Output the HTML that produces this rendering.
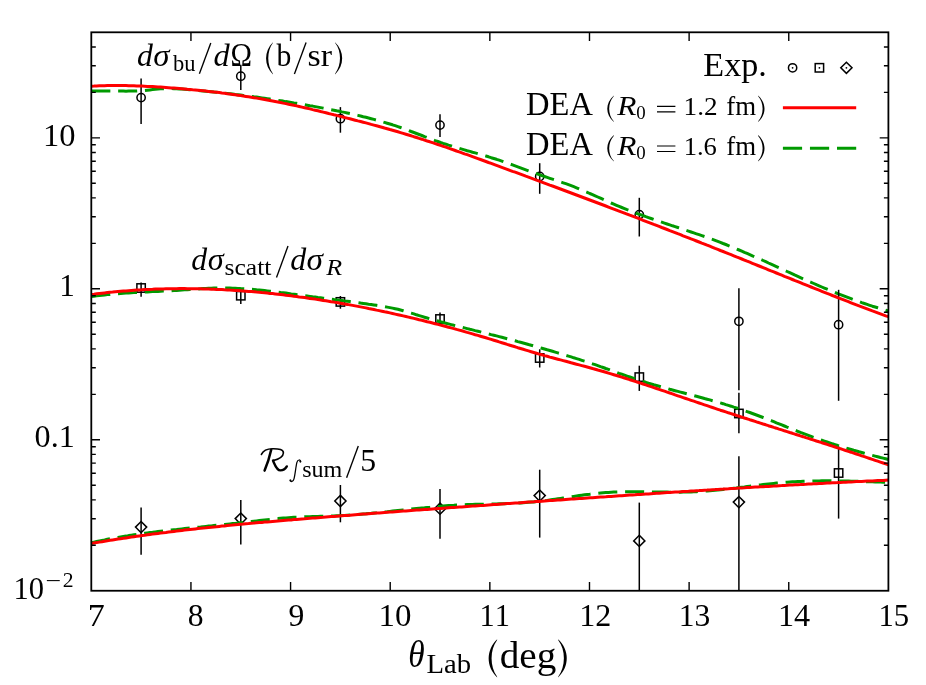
<!DOCTYPE html>
<html><head><meta charset="utf-8"><title>chart</title>
<style>html,body{margin:0;padding:0;background:#fff;overflow:hidden;}svg{display:block;will-change:transform;}text{font-family:"Liberation Serif",serif;fill:#000;}</style></head><body>
<svg width="926" height="685" viewBox="0 0 926 685">
<rect x="0" y="0" width="926" height="685" fill="#ffffff"/>
<g style="font-kerning:none">
<text transform="translate(43.04,145.8) scale(1.0415,1)" style="font-size:31.2px;">10</text>
<text transform="translate(59.25,296.2) scale(1.0015,1)" style="font-size:31.2px;">1</text>
<text transform="translate(34.58,447.3) scale(1.0296,1)" style="font-size:31.2px;">0.1</text>
<text transform="translate(13.52,598.6) scale(0.9791,1)" style="font-size:31.2px;">10</text>
<text transform="translate(45.52,588.3) scale(1.2601,1)" style="font-size:22px;">−</text>
<text transform="translate(62.85,586.8) scale(1.0047,1)" style="font-size:21.6px;">2</text>
<text transform="translate(87.76,625.5) scale(1.0914,1)" style="font-size:31.2px;">7</text>
<text transform="translate(187.80,625.5) scale(1.0134,1)" style="font-size:31.2px;">8</text>
<text transform="translate(288.38,625.5) scale(1.0139,1)" style="font-size:31.2px;">9</text>
<text transform="translate(378.60,625.5) scale(1.0561,1)" style="font-size:31.2px;">10</text>
<text transform="translate(479.43,625.5) scale(0.9743,1)" style="font-size:31.2px;">11</text>
<text transform="translate(579.18,625.5) scale(1.0286,1)" style="font-size:31.2px;">12</text>
<text transform="translate(678.63,625.5) scale(1.0096,1)" style="font-size:31.2px;">13</text>
<text transform="translate(777.97,625.5) scale(1.0332,1)" style="font-size:31.2px;">14</text>
<text transform="translate(878.50,625.5) scale(0.9839,1)" style="font-size:31.2px;">15</text>
<text transform="translate(408.37,667.2) scale(0.8680,1)" style="font-size:38.5px;font-style:italic;">θ</text>
<text transform="translate(426.47,672.8) scale(1.0475,1)" style="font-size:27.4px;">Lab</text>
<path fill="#000" stroke="none" d="M497.20,639.30 C485.87,649.97 485.87,666.73 497.20,677.40 L497.00,676.40 C489.80,666.73 489.80,649.97 497.00,640.30Z"/>
<text transform="translate(499.68,667.6) scale(1.0175,1)" style="font-size:38.5px;">deg</text>
<path fill="#000" stroke="none" d="M558.10,639.30 C569.70,649.97 569.70,666.73 558.10,677.40 L558.30,676.40 C565.77,666.73 565.77,649.97 558.30,640.30Z"/>
<text transform="translate(137.04,66.2) scale(0.9928,1)" style="font-size:32px;font-style:italic;">d</text>
<text transform="translate(153.22,66.2) scale(1.0288,1)" style="font-size:32px;font-style:italic;">σ</text>
<text transform="translate(173.00,71.2) scale(1.0038,1)" style="font-size:22.4px;">bu</text>
<line x1="199.40" y1="73.70" x2="210.80" y2="43.10" stroke="#000" stroke-width="1.35" stroke-linecap="butt"/>
<text transform="translate(213.52,66.2) scale(1.0126,1)" style="font-size:32px;font-style:italic;">d</text>
<text transform="translate(230.50,66.2) scale(0.8764,1)" style="font-size:33px;">Ω</text>
<path fill="#000" stroke="none" d="M273.00,42.20 C263.80,51.22 263.80,65.38 273.00,74.40 L272.82,73.50 C266.79,65.38 266.79,51.22 272.82,43.10Z"/>
<text transform="translate(276.60,66.2) scale(0.9268,1)" style="font-size:32px;">b</text>
<line x1="294.40" y1="74.10" x2="306.10" y2="42.50" stroke="#000" stroke-width="1.35" stroke-linecap="butt"/>
<text transform="translate(307.61,66.2) scale(1.0597,1)" style="font-size:32px;">sr</text>
<path fill="#000" stroke="none" d="M335.00,42.20 C344.60,51.22 344.60,65.38 335.00,74.40 L335.18,73.50 C341.61,65.38 341.61,51.22 335.18,43.10Z"/>
<text transform="translate(191.34,269.6) scale(0.9928,1)" style="font-size:32px;font-style:italic;">d</text>
<text transform="translate(207.64,269.6) scale(1.0099,1)" style="font-size:32px;font-style:italic;">σ</text>
<text transform="translate(224.55,274.6) scale(1.1425,1)" style="font-size:22.4px;">scatt</text>
<line x1="276.50" y1="277.40" x2="288.00" y2="246.10" stroke="#000" stroke-width="1.35" stroke-linecap="butt"/>
<text transform="translate(290.33,269.6) scale(0.9994,1)" style="font-size:32px;font-style:italic;">d</text>
<text transform="translate(306.61,269.6) scale(1.0414,1)" style="font-size:32px;font-style:italic;">σ</text>
<text transform="translate(326.34,274.8) scale(1.1615,1)" style="font-size:22.4px;font-style:italic;">R</text>
<g fill="none" stroke="#000" stroke-linecap="round" stroke-linejoin="round"><path stroke-width="2.5" d="M271.2,449.8 C269.6,457.0 267.2,464.4 264.6,470.6"/><path stroke-width="1.6" d="M261.4,454.4 C263.2,450.4 267.2,448.7 272.6,448.7 C279.0,448.6 283.6,449.6 283.4,453.0 C283.2,456.6 278.2,459.4 273.0,460.6"/><path stroke-width="2.4" d="M273.0,460.6 C274.8,464.6 276.6,470.4 280.4,470.4 C283.4,470.4 285.8,468.2 286.8,466.4"/></g>
<path fill="none" stroke="#000" stroke-width="1.25" stroke-linecap="round" d="M300.6,461.8 C300.6,459.4 297.8,459.2 296.9,462.4 C295.8,466.6 295.2,474.6 294.0,478.8 C293.2,481.8 290.6,482.4 290.2,480.2"/>
<circle cx="300.3" cy="461.6" r="1.0"/><circle cx="290.5" cy="480.4" r="1.0"/>
<text transform="translate(302.21,476.5) scale(1.0756,1)" style="font-size:22.4px;">sum</text>
<line x1="346.60" y1="477.70" x2="358.30" y2="446.00" stroke="#000" stroke-width="1.35" stroke-linecap="butt"/>
<text transform="translate(360.35,470.8) scale(1.0184,1)" style="font-size:31.2px;">5</text>
<text transform="translate(703.32,75.5) scale(1.0346,1)" style="font-size:33px;">Exp.</text>
<text transform="translate(526.06,115.1) scale(0.9861,1)" style="font-size:33px;">DEA</text>
<text transform="translate(526.06,154.7) scale(0.9861,1)" style="font-size:33px;">DEA</text>
<path fill="#000" stroke="none" d="M613.90,95.50 C605.10,102.92 605.10,114.58 613.90,122.00 L613.74,121.20 C607.69,114.58 607.69,102.92 613.74,96.30Z"/>
<text transform="translate(617.37,115.1) scale(1.1743,1)" style="font-size:26.7px;font-style:italic;">R</text>
<text transform="translate(636.18,119.39999999999999) scale(1.0371,1)" style="font-size:18.2px;">0</text>
<path d="M657.0,106.35 H675.4 M657.0,111.85 H675.4" stroke="#000" stroke-width="1.15" fill="none"/>
<text transform="translate(683.61,115.3) scale(1.0706,1)" style="font-size:25.4px;">1.2</text>
<text transform="translate(726.37,115.1) scale(1.0063,1)" style="font-size:26.7px;">fm</text>
<path fill="#000" stroke="none" d="M758.00,95.50 C766.67,102.92 766.67,114.58 758.00,122.00 L758.16,121.20 C764.08,114.58 764.08,102.92 758.16,96.30Z"/>
<path fill="#000" stroke="none" d="M613.90,135.10 C605.10,142.52 605.10,154.18 613.90,161.60 L613.74,160.80 C607.69,154.18 607.69,142.52 613.74,135.90Z"/>
<text transform="translate(617.37,154.7) scale(1.1743,1)" style="font-size:26.7px;font-style:italic;">R</text>
<text transform="translate(636.18,159.0) scale(1.0371,1)" style="font-size:18.2px;">0</text>
<path d="M657.0,145.95 H675.4 M657.0,151.45 H675.4" stroke="#000" stroke-width="1.15" fill="none"/>
<text transform="translate(683.66,154.89999999999998) scale(1.0466,1)" style="font-size:25.4px;">1.6</text>
<text transform="translate(726.37,154.7) scale(1.0063,1)" style="font-size:26.7px;">fm</text>
<path fill="#000" stroke="none" d="M758.00,135.10 C766.67,142.52 766.67,154.18 758.00,161.60 L758.16,160.80 C764.08,154.18 764.08,142.52 758.16,135.90Z"/>
</g>
<g fill="none" stroke="#000000" stroke-width="1.5">
<line x1="141.1" y1="78.6" x2="141.1" y2="123.9"/>
<line x1="240.8" y1="64.8" x2="240.8" y2="90.0"/>
<line x1="340.4" y1="107.1" x2="340.4" y2="132.7"/>
<line x1="440.0" y1="114.3" x2="440.0" y2="137.1"/>
<line x1="539.7" y1="163.2" x2="539.7" y2="193.8"/>
<line x1="639.3" y1="197.8" x2="639.3" y2="236.5"/>
<line x1="141.1" y1="282.6" x2="141.1" y2="296.8"/>
<line x1="240.8" y1="289.0" x2="240.8" y2="304.0"/>
<line x1="340.4" y1="296.0" x2="340.4" y2="308.7"/>
<line x1="440.0" y1="312.4" x2="440.0" y2="325.6"/>
<line x1="539.7" y1="349.3" x2="539.7" y2="367.5"/>
<line x1="639.3" y1="365.7" x2="639.3" y2="390.9"/>
<line x1="738.9" y1="392.7" x2="738.9" y2="433.2"/>
<line x1="838.6" y1="446.4" x2="838.6" y2="518.6"/>
<line x1="141.1" y1="507.6" x2="141.1" y2="554.7"/>
<line x1="240.8" y1="500.0" x2="240.8" y2="544.6"/>
<line x1="340.4" y1="485.0" x2="340.4" y2="522.3"/>
<line x1="440.0" y1="489.0" x2="440.0" y2="538.7"/>
<line x1="539.7" y1="469.7" x2="539.7" y2="537.6"/>
<line x1="639.3" y1="502.6" x2="639.3" y2="590.5"/>
<line x1="738.9" y1="456.2" x2="738.9" y2="590.5"/>
</g>
<g fill="none" stroke="#000000" stroke-width="1.5" stroke-linejoin="miter">
<circle cx="141.1" cy="97.6" r="4.15"/>
<circle cx="240.8" cy="76.2" r="4.15"/>
<circle cx="340.4" cy="118.7" r="4.15"/>
<circle cx="440.0" cy="125.1" r="4.15"/>
<circle cx="539.7" cy="176.5" r="4.15"/>
<circle cx="639.3" cy="214.6" r="4.15"/>
<rect x="136.9" y="283.8" width="8.4" height="8.4"/>
<rect x="236.6" y="291.5" width="8.4" height="8.4"/>
<rect x="336.2" y="297.7" width="8.4" height="8.4"/>
<rect x="435.8" y="314.8" width="8.4" height="8.4"/>
<rect x="535.5" y="353.8" width="8.4" height="8.4"/>
<rect x="635.1" y="372.9" width="8.4" height="8.4"/>
<rect x="734.7" y="409.3" width="8.4" height="8.4"/>
<rect x="834.4" y="468.8" width="8.4" height="8.4"/>
<path d="M141.1,521.5 L146.7,527.1 L141.1,532.7 L135.5,527.1Z"/>
<path d="M240.8,513.0 L246.4,518.6 L240.8,524.2 L235.2,518.6Z"/>
<path d="M340.4,495.4 L346.0,501.0 L340.4,506.6 L334.8,501.0Z"/>
<path d="M440.0,503.1 L445.6,508.7 L440.0,514.3 L434.4,508.7Z"/>
<path d="M539.7,490.0 L545.3,495.6 L539.7,501.2 L534.1,495.6Z"/>
<path d="M639.3,535.3 L644.9,540.9 L639.3,546.5 L633.7,540.9Z"/>
<path d="M738.9,496.5 L744.5,502.1 L738.9,507.7 L733.3,502.1Z"/>
</g>
<g fill="none" stroke="#009a00" stroke-width="3" stroke-dasharray="19.05 7.79" stroke-linecap="butt" stroke-linejoin="round">
<path d="M91.3,91.0 L94.0,90.9 L96.6,90.9 L99.3,90.9 L102.0,90.9 L104.6,90.9 L107.3,90.9 L110.0,91.0 L112.6,91.0 L115.3,91.0 L118.0,91.1 L120.6,91.1 L123.3,91.1 L126.0,91.2 L128.6,91.1 L131.3,91.1 L134.0,91.0 L136.6,91.0 L139.3,90.8 L142.0,90.7 L144.6,90.5 L147.3,90.2 L149.9,89.9 L152.6,89.6 L155.3,89.3 L157.9,89.1 L160.6,88.8 L163.3,88.7 L165.9,88.6 L168.6,88.6 L171.3,88.6 L173.9,88.7 L176.6,88.8 L179.3,88.9 L181.9,89.1 L184.6,89.3 L187.3,89.5 L189.9,89.7 L192.6,90.0 L195.3,90.2 L197.9,90.4 L200.6,90.7 L203.3,90.9 L205.9,91.2 L208.6,91.4 L211.3,91.7 L213.9,92.0 L216.6,92.2 L219.3,92.5 L221.9,92.8 L224.6,93.1 L227.3,93.4 L229.9,93.7 L232.6,94.0 L235.3,94.4 L237.9,94.7 L240.6,95.0 L243.3,95.4 L245.9,95.7 L248.6,96.1 L251.3,96.4 L253.9,96.8 L256.6,97.1 L259.3,97.5 L261.9,97.9 L264.6,98.3 L267.2,98.7 L269.9,99.1 L272.6,99.5 L275.2,99.9 L277.9,100.3 L280.6,100.7 L283.2,101.1 L285.9,101.6 L288.6,102.0 L291.2,102.4 L293.9,102.9 L296.6,103.3 L299.2,103.8 L301.9,104.2 L304.6,104.7 L307.2,105.2 L309.9,105.7 L312.6,106.1 L315.2,106.6 L317.9,107.1 L320.6,107.6 L323.2,108.1 L325.9,108.7 L328.6,109.2 L331.2,109.7 L333.9,110.2 L336.6,110.8 L339.2,111.3 L341.9,111.9 L344.6,112.4 L347.2,113.0 L349.9,113.6 L352.6,114.2 L355.2,114.8 L357.9,115.4 L360.6,116.0 L363.2,116.7 L365.9,117.3 L368.6,118.0 L371.2,118.7 L373.9,119.4 L376.5,120.1 L379.2,120.8 L381.9,121.6 L384.5,122.4 L387.2,123.2 L389.9,124.0 L392.5,124.8 L395.2,125.7 L397.9,126.6 L400.5,127.5 L403.2,128.5 L405.9,129.5 L408.5,130.4 L411.2,131.5 L413.9,132.5 L416.5,133.5 L419.2,134.5 L421.9,135.5 L424.5,136.6 L427.2,137.6 L429.9,138.6 L432.5,139.6 L435.2,140.6 L437.9,141.5 L440.5,142.5 L443.2,143.4 L445.9,144.2 L448.5,145.1 L451.2,145.9 L453.9,146.8 L456.5,147.6 L459.2,148.3 L461.9,149.1 L464.5,149.9 L467.2,150.7 L469.9,151.4 L472.5,152.2 L475.2,152.9 L477.9,153.7 L480.5,154.5 L483.2,155.3 L485.9,156.0 L488.5,156.8 L491.2,157.7 L493.8,158.5 L496.5,159.3 L499.2,160.2 L501.8,161.1 L504.5,162.0 L507.2,163.0 L509.8,163.9 L512.5,164.9 L515.2,165.9 L517.8,166.8 L520.5,167.8 L523.2,168.8 L525.8,169.8 L528.5,170.8 L531.2,171.8 L533.8,172.8 L536.5,173.7 L539.2,174.7 L541.8,175.6 L544.5,176.5 L547.2,177.4 L549.8,178.3 L552.5,179.2 L555.2,180.1 L557.8,181.0 L560.5,181.9 L563.2,182.8 L565.8,183.7 L568.5,184.7 L571.2,185.7 L573.8,186.7 L576.5,187.8 L579.2,188.9 L581.8,190.0 L584.5,191.2 L587.2,192.3 L589.8,193.5 L592.5,194.6 L595.2,195.8 L597.8,197.0 L600.5,198.2 L603.2,199.4 L605.8,200.6 L608.5,201.8 L611.1,203.0 L613.8,204.1 L616.5,205.3 L619.1,206.4 L621.8,207.5 L624.5,208.6 L627.1,209.7 L629.8,210.7 L632.5,211.7 L635.1,212.8 L637.8,213.8 L640.5,214.7 L643.1,215.7 L645.8,216.7 L648.5,217.6 L651.1,218.5 L653.8,219.5 L656.5,220.4 L659.1,221.3 L661.8,222.2 L664.5,223.1 L667.1,224.0 L669.8,224.9 L672.5,225.8 L675.1,226.6 L677.8,227.5 L680.5,228.4 L683.1,229.3 L685.8,230.2 L688.5,231.1 L691.1,232.0 L693.8,232.9 L696.5,233.8 L699.1,234.7 L701.8,235.6 L704.5,236.5 L707.1,237.5 L709.8,238.5 L712.5,239.4 L715.1,240.4 L717.8,241.4 L720.4,242.4 L723.1,243.5 L725.8,244.5 L728.4,245.6 L731.1,246.7 L733.8,247.8 L736.4,248.9 L739.1,250.0 L741.8,251.1 L744.4,252.3 L747.1,253.4 L749.8,254.6 L752.4,255.8 L755.1,256.9 L757.8,258.1 L760.4,259.3 L763.1,260.5 L765.8,261.7 L768.4,263.0 L771.1,264.2 L773.8,265.4 L776.4,266.6 L779.1,267.8 L781.8,269.1 L784.4,270.3 L787.1,271.5 L789.8,272.7 L792.4,273.9 L795.1,275.2 L797.8,276.4 L800.4,277.6 L803.1,278.8 L805.8,280.0 L808.4,281.2 L811.1,282.3 L813.8,283.5 L816.4,284.7 L819.1,285.8 L821.8,287.0 L824.4,288.1 L827.1,289.2 L829.8,290.3 L832.4,291.4 L835.1,292.5 L837.7,293.6 L840.4,294.6 L843.1,295.7 L845.7,296.7 L848.4,297.7 L851.1,298.7 L853.7,299.7 L856.4,300.7 L859.1,301.6 L861.7,302.6 L864.4,303.5 L867.1,304.4 L869.7,305.3 L872.4,306.2 L875.1,307.0 L877.7,307.8 L880.4,308.7 L883.1,309.5 L885.7,310.2 L888.4,311.0"/>
<path d="M91.3,296.5 L94.0,296.2 L96.6,295.8 L99.3,295.5 L102.0,295.2 L104.6,294.9 L107.3,294.6 L110.0,294.4 L112.6,294.1 L115.3,293.9 L118.0,293.7 L120.6,293.5 L123.3,293.3 L126.0,293.1 L128.6,292.9 L131.3,292.7 L134.0,292.6 L136.6,292.4 L139.3,292.3 L142.0,292.1 L144.6,292.0 L147.3,291.9 L149.9,291.7 L152.6,291.6 L155.3,291.5 L157.9,291.4 L160.6,291.2 L163.3,291.1 L165.9,291.0 L168.6,290.8 L171.3,290.7 L173.9,290.5 L176.6,290.4 L179.3,290.2 L181.9,290.0 L184.6,289.8 L187.3,289.7 L189.9,289.5 L192.6,289.3 L195.3,289.1 L197.9,288.9 L200.6,288.8 L203.3,288.6 L205.9,288.5 L208.6,288.3 L211.3,288.2 L213.9,288.1 L216.6,288.1 L219.3,288.0 L221.9,288.0 L224.6,288.0 L227.3,288.1 L229.9,288.1 L232.6,288.2 L235.3,288.3 L237.9,288.4 L240.6,288.6 L243.3,288.7 L245.9,288.9 L248.6,289.1 L251.3,289.3 L253.9,289.5 L256.6,289.8 L259.3,290.0 L261.9,290.3 L264.6,290.6 L267.2,290.9 L269.9,291.2 L272.6,291.5 L275.2,291.8 L277.9,292.1 L280.6,292.5 L283.2,292.8 L285.9,293.1 L288.6,293.5 L291.2,293.9 L293.9,294.2 L296.6,294.6 L299.2,294.9 L301.9,295.3 L304.6,295.7 L307.2,296.0 L309.9,296.4 L312.6,296.8 L315.2,297.1 L317.9,297.5 L320.6,297.8 L323.2,298.2 L325.9,298.5 L328.6,298.9 L331.2,299.2 L333.9,299.6 L336.6,299.9 L339.2,300.3 L341.9,300.6 L344.6,301.0 L347.2,301.3 L349.9,301.6 L352.6,302.0 L355.2,302.3 L357.9,302.7 L360.6,303.1 L363.2,303.4 L365.9,303.8 L368.6,304.2 L371.2,304.5 L373.9,304.9 L376.5,305.3 L379.2,305.7 L381.9,306.1 L384.5,306.6 L387.2,307.1 L389.9,307.6 L392.5,308.1 L395.2,308.7 L397.9,309.3 L400.5,310.0 L403.2,310.7 L405.9,311.5 L408.5,312.3 L411.2,313.1 L413.9,313.9 L416.5,314.8 L419.2,315.6 L421.9,316.4 L424.5,317.2 L427.2,318.0 L429.9,318.8 L432.5,319.6 L435.2,320.3 L437.9,321.0 L440.5,321.8 L443.2,322.5 L445.9,323.2 L448.5,323.9 L451.2,324.6 L453.9,325.3 L456.5,325.9 L459.2,326.6 L461.9,327.3 L464.5,327.9 L467.2,328.6 L469.9,329.3 L472.5,329.9 L475.2,330.6 L477.9,331.2 L480.5,331.9 L483.2,332.6 L485.9,333.2 L488.5,333.9 L491.2,334.6 L493.8,335.2 L496.5,335.9 L499.2,336.6 L501.8,337.3 L504.5,338.0 L507.2,338.7 L509.8,339.4 L512.5,340.1 L515.2,340.8 L517.8,341.6 L520.5,342.3 L523.2,343.0 L525.8,343.7 L528.5,344.5 L531.2,345.2 L533.8,346.0 L536.5,346.7 L539.2,347.5 L541.8,348.2 L544.5,349.0 L547.2,349.8 L549.8,350.5 L552.5,351.3 L555.2,352.1 L557.8,352.9 L560.5,353.7 L563.2,354.5 L565.8,355.3 L568.5,356.1 L571.2,356.9 L573.8,357.8 L576.5,358.6 L579.2,359.4 L581.8,360.3 L584.5,361.2 L587.2,362.0 L589.8,362.9 L592.5,363.8 L595.2,364.7 L597.8,365.6 L600.5,366.6 L603.2,367.5 L605.8,368.5 L608.5,369.4 L611.1,370.4 L613.8,371.3 L616.5,372.3 L619.1,373.3 L621.8,374.2 L624.5,375.2 L627.1,376.1 L629.8,377.0 L632.5,378.0 L635.1,378.9 L637.8,379.8 L640.5,380.6 L643.1,381.5 L645.8,382.3 L648.5,383.2 L651.1,384.0 L653.8,384.8 L656.5,385.5 L659.1,386.3 L661.8,387.1 L664.5,387.8 L667.1,388.5 L669.8,389.3 L672.5,390.0 L675.1,390.7 L677.8,391.4 L680.5,392.1 L683.1,392.8 L685.8,393.5 L688.5,394.2 L691.1,394.9 L693.8,395.6 L696.5,396.3 L699.1,397.0 L701.8,397.7 L704.5,398.5 L707.1,399.2 L709.8,399.9 L712.5,400.7 L715.1,401.4 L717.8,402.2 L720.4,402.9 L723.1,403.7 L725.8,404.6 L728.4,405.4 L731.1,406.2 L733.8,407.1 L736.4,407.9 L739.1,408.8 L741.8,409.7 L744.4,410.7 L747.1,411.6 L749.8,412.5 L752.4,413.5 L755.1,414.5 L757.8,415.5 L760.4,416.5 L763.1,417.5 L765.8,418.5 L768.4,419.6 L771.1,420.6 L773.8,421.7 L776.4,422.8 L779.1,423.8 L781.8,424.9 L784.4,426.0 L787.1,427.1 L789.8,428.1 L792.4,429.2 L795.1,430.3 L797.8,431.3 L800.4,432.4 L803.1,433.4 L805.8,434.4 L808.4,435.4 L811.1,436.4 L813.8,437.4 L816.4,438.4 L819.1,439.3 L821.8,440.2 L824.4,441.1 L827.1,442.0 L829.8,442.9 L832.4,443.8 L835.1,444.6 L837.7,445.5 L840.4,446.3 L843.1,447.1 L845.7,447.9 L848.4,448.7 L851.1,449.5 L853.7,450.3 L856.4,451.0 L859.1,451.8 L861.7,452.5 L864.4,453.3 L867.1,454.0 L869.7,454.7 L872.4,455.4 L875.1,456.1 L877.7,456.8 L880.4,457.5 L883.1,458.1 L885.7,458.8 L888.4,459.5"/>
<path d="M91.3,542.7 L94.0,542.1 L96.6,541.5 L99.3,540.9 L102.0,540.4 L104.6,539.9 L107.3,539.3 L110.0,538.8 L112.6,538.3 L115.3,537.9 L118.0,537.4 L120.6,536.9 L123.3,536.5 L126.0,536.1 L128.6,535.6 L131.3,535.2 L134.0,534.8 L136.6,534.4 L139.3,534.0 L142.0,533.7 L144.6,533.3 L147.3,532.9 L149.9,532.6 L152.6,532.3 L155.3,531.9 L157.9,531.6 L160.6,531.3 L163.3,531.0 L165.9,530.6 L168.6,530.3 L171.3,530.0 L173.9,529.7 L176.6,529.5 L179.3,529.2 L181.9,528.9 L184.6,528.6 L187.3,528.3 L189.9,528.0 L192.6,527.8 L195.3,527.5 L197.9,527.2 L200.6,527.0 L203.3,526.7 L205.9,526.4 L208.6,526.1 L211.3,525.9 L213.9,525.6 L216.6,525.3 L219.3,525.1 L221.9,524.8 L224.6,524.5 L227.3,524.2 L229.9,523.9 L232.6,523.6 L235.3,523.4 L237.9,523.1 L240.6,522.8 L243.3,522.5 L245.9,522.1 L248.6,521.8 L251.3,521.5 L253.9,521.2 L256.6,520.9 L259.3,520.6 L261.9,520.3 L264.6,520.0 L267.2,519.7 L269.9,519.4 L272.6,519.1 L275.2,518.8 L277.9,518.6 L280.6,518.3 L283.2,518.1 L285.9,517.9 L288.6,517.7 L291.2,517.5 L293.9,517.3 L296.6,517.2 L299.2,517.1 L301.9,516.9 L304.6,516.8 L307.2,516.7 L309.9,516.7 L312.6,516.6 L315.2,516.5 L317.9,516.4 L320.6,516.3 L323.2,516.3 L325.9,516.2 L328.6,516.1 L331.2,516.0 L333.9,515.9 L336.6,515.8 L339.2,515.7 L341.9,515.5 L344.6,515.4 L347.2,515.2 L349.9,515.0 L352.6,514.9 L355.2,514.7 L357.9,514.5 L360.6,514.2 L363.2,514.0 L365.9,513.8 L368.6,513.5 L371.2,513.3 L373.9,513.0 L376.5,512.8 L379.2,512.5 L381.9,512.2 L384.5,511.9 L387.2,511.7 L389.9,511.4 L392.5,511.1 L395.2,510.8 L397.9,510.5 L400.5,510.2 L403.2,509.9 L405.9,509.6 L408.5,509.3 L411.2,509.1 L413.9,508.8 L416.5,508.5 L419.2,508.2 L421.9,507.9 L424.5,507.7 L427.2,507.4 L429.9,507.2 L432.5,506.9 L435.2,506.7 L437.9,506.4 L440.5,506.2 L443.2,506.0 L445.9,505.8 L448.5,505.6 L451.2,505.4 L453.9,505.3 L456.5,505.1 L459.2,505.0 L461.9,504.8 L464.5,504.7 L467.2,504.6 L469.9,504.5 L472.5,504.4 L475.2,504.3 L477.9,504.3 L480.5,504.2 L483.2,504.2 L485.9,504.1 L488.5,504.1 L491.2,504.0 L493.8,503.9 L496.5,503.9 L499.2,503.8 L501.8,503.7 L504.5,503.7 L507.2,503.6 L509.8,503.5 L512.5,503.3 L515.2,503.2 L517.8,503.1 L520.5,502.9 L523.2,502.7 L525.8,502.6 L528.5,502.3 L531.2,502.1 L533.8,501.9 L536.5,501.6 L539.2,501.3 L541.8,501.0 L544.5,500.7 L547.2,500.4 L549.8,500.0 L552.5,499.6 L555.2,499.2 L557.8,498.8 L560.5,498.4 L563.2,498.0 L565.8,497.6 L568.5,497.2 L571.2,496.8 L573.8,496.4 L576.5,496.0 L579.2,495.6 L581.8,495.2 L584.5,494.8 L587.2,494.5 L589.8,494.2 L592.5,493.8 L595.2,493.6 L597.8,493.3 L600.5,493.0 L603.2,492.8 L605.8,492.6 L608.5,492.4 L611.1,492.2 L613.8,492.1 L616.5,492.0 L619.1,491.9 L621.8,491.8 L624.5,491.7 L627.1,491.7 L629.8,491.7 L632.5,491.7 L635.1,491.7 L637.8,491.7 L640.5,491.7 L643.1,491.7 L645.8,491.8 L648.5,491.8 L651.1,491.9 L653.8,491.9 L656.5,492.0 L659.1,492.0 L661.8,492.1 L664.5,492.1 L667.1,492.1 L669.8,492.2 L672.5,492.2 L675.1,492.2 L677.8,492.2 L680.5,492.2 L683.1,492.1 L685.8,492.1 L688.5,492.0 L691.1,491.9 L693.8,491.8 L696.5,491.7 L699.1,491.5 L701.8,491.3 L704.5,491.2 L707.1,490.9 L709.8,490.7 L712.5,490.5 L715.1,490.2 L717.8,490.0 L720.4,489.7 L723.1,489.4 L725.8,489.1 L728.4,488.8 L731.1,488.5 L733.8,488.2 L736.4,487.9 L739.1,487.5 L741.8,487.2 L744.4,486.9 L747.1,486.5 L749.8,486.2 L752.4,485.9 L755.1,485.5 L757.8,485.2 L760.4,484.9 L763.1,484.6 L765.8,484.3 L768.4,484.0 L771.1,483.7 L773.8,483.4 L776.4,483.1 L779.1,482.9 L781.8,482.6 L784.4,482.4 L787.1,482.2 L789.8,482.0 L792.4,481.8 L795.1,481.7 L797.8,481.5 L800.4,481.4 L803.1,481.3 L805.8,481.2 L808.4,481.1 L811.1,481.0 L813.8,480.9 L816.4,480.9 L819.1,480.9 L821.8,480.8 L824.4,480.8 L827.1,480.8 L829.8,480.8 L832.4,480.9 L835.1,480.9 L837.7,480.9 L840.4,481.0 L843.1,481.0 L845.7,481.1 L848.4,481.1 L851.1,481.2 L853.7,481.3 L856.4,481.3 L859.1,481.4 L861.7,481.5 L864.4,481.6 L867.1,481.7 L869.7,481.7 L872.4,481.8 L875.1,481.9 L877.7,482.0 L880.4,482.1 L883.1,482.2 L885.7,482.2 L888.4,482.3"/>
</g>
<g fill="none" stroke="#000000" stroke-width="1.5">
<line x1="738.9" y1="288.3" x2="738.9" y2="390.3"/>
<line x1="838.6" y1="289.8" x2="838.6" y2="400.8"/>
</g>
<g fill="none" stroke="#000000" stroke-width="1.5" stroke-linejoin="miter">
<circle cx="738.9" cy="321.3" r="4.15"/>
<circle cx="838.6" cy="324.7" r="4.15"/>
</g>
<g fill="none" stroke="#ff0000" stroke-width="3" stroke-linecap="butt" stroke-linejoin="round">
<path d="M91.3,86.2 L94.0,86.1 L96.6,85.9 L99.3,85.8 L102.0,85.8 L104.6,85.7 L107.3,85.6 L110.0,85.6 L112.6,85.6 L115.3,85.6 L118.0,85.6 L120.6,85.6 L123.3,85.6 L126.0,85.6 L128.6,85.7 L131.3,85.8 L134.0,85.8 L136.6,85.9 L139.3,86.0 L142.0,86.1 L144.6,86.2 L147.3,86.4 L149.9,86.5 L152.6,86.6 L155.3,86.8 L157.9,87.0 L160.6,87.1 L163.3,87.3 L165.9,87.5 L168.6,87.7 L171.3,87.9 L173.9,88.1 L176.6,88.3 L179.3,88.5 L181.9,88.7 L184.6,88.9 L187.3,89.2 L189.9,89.4 L192.6,89.7 L195.3,89.9 L197.9,90.2 L200.6,90.5 L203.3,90.8 L205.9,91.1 L208.6,91.4 L211.3,91.7 L213.9,92.0 L216.6,92.3 L219.3,92.6 L221.9,93.0 L224.6,93.3 L227.3,93.7 L229.9,94.0 L232.6,94.4 L235.3,94.8 L237.9,95.2 L240.6,95.6 L243.3,96.0 L245.9,96.4 L248.6,96.8 L251.3,97.2 L253.9,97.7 L256.6,98.1 L259.3,98.6 L261.9,99.0 L264.6,99.5 L267.2,100.0 L269.9,100.5 L272.6,101.0 L275.2,101.5 L277.9,102.0 L280.6,102.5 L283.2,103.1 L285.9,103.6 L288.6,104.2 L291.2,104.7 L293.9,105.3 L296.6,105.9 L299.2,106.5 L301.9,107.1 L304.6,107.7 L307.2,108.3 L309.9,108.9 L312.6,109.6 L315.2,110.2 L317.9,110.8 L320.6,111.5 L323.2,112.1 L325.9,112.8 L328.6,113.5 L331.2,114.1 L333.9,114.8 L336.6,115.4 L339.2,116.1 L341.9,116.8 L344.6,117.5 L347.2,118.1 L349.9,118.8 L352.6,119.5 L355.2,120.2 L357.9,120.9 L360.6,121.5 L363.2,122.2 L365.9,122.9 L368.6,123.6 L371.2,124.4 L373.9,125.1 L376.5,125.8 L379.2,126.5 L381.9,127.2 L384.5,128.0 L387.2,128.7 L389.9,129.5 L392.5,130.2 L395.2,131.0 L397.9,131.8 L400.5,132.6 L403.2,133.4 L405.9,134.2 L408.5,135.0 L411.2,135.8 L413.9,136.7 L416.5,137.5 L419.2,138.4 L421.9,139.2 L424.5,140.1 L427.2,141.0 L429.9,141.8 L432.5,142.7 L435.2,143.6 L437.9,144.5 L440.5,145.4 L443.2,146.3 L445.9,147.2 L448.5,148.2 L451.2,149.1 L453.9,150.0 L456.5,151.0 L459.2,151.9 L461.9,152.8 L464.5,153.8 L467.2,154.7 L469.9,155.7 L472.5,156.6 L475.2,157.6 L477.9,158.6 L480.5,159.5 L483.2,160.5 L485.9,161.5 L488.5,162.5 L491.2,163.4 L493.8,164.4 L496.5,165.4 L499.2,166.4 L501.8,167.3 L504.5,168.3 L507.2,169.3 L509.8,170.3 L512.5,171.3 L515.2,172.2 L517.8,173.2 L520.5,174.2 L523.2,175.2 L525.8,176.2 L528.5,177.1 L531.2,178.1 L533.8,179.1 L536.5,180.1 L539.2,181.1 L541.8,182.1 L544.5,183.1 L547.2,184.1 L549.8,185.1 L552.5,186.0 L555.2,187.0 L557.8,188.0 L560.5,189.0 L563.2,190.0 L565.8,191.0 L568.5,192.0 L571.2,193.0 L573.8,194.0 L576.5,195.0 L579.2,196.0 L581.8,197.0 L584.5,198.0 L587.2,199.0 L589.8,200.0 L592.5,201.0 L595.2,202.0 L597.8,203.0 L600.5,204.0 L603.2,205.0 L605.8,206.0 L608.5,207.1 L611.1,208.1 L613.8,209.1 L616.5,210.1 L619.1,211.1 L621.8,212.1 L624.5,213.1 L627.1,214.1 L629.8,215.2 L632.5,216.2 L635.1,217.2 L637.8,218.2 L640.5,219.2 L643.1,220.3 L645.8,221.3 L648.5,222.3 L651.1,223.3 L653.8,224.4 L656.5,225.4 L659.1,226.4 L661.8,227.5 L664.5,228.5 L667.1,229.5 L669.8,230.6 L672.5,231.6 L675.1,232.6 L677.8,233.7 L680.5,234.7 L683.1,235.8 L685.8,236.8 L688.5,237.8 L691.1,238.9 L693.8,239.9 L696.5,241.0 L699.1,242.0 L701.8,243.1 L704.5,244.1 L707.1,245.2 L709.8,246.2 L712.5,247.3 L715.1,248.4 L717.8,249.4 L720.4,250.5 L723.1,251.5 L725.8,252.6 L728.4,253.7 L731.1,254.7 L733.8,255.8 L736.4,256.9 L739.1,257.9 L741.8,259.0 L744.4,260.1 L747.1,261.2 L749.8,262.2 L752.4,263.3 L755.1,264.4 L757.8,265.5 L760.4,266.5 L763.1,267.6 L765.8,268.7 L768.4,269.8 L771.1,270.9 L773.8,271.9 L776.4,273.0 L779.1,274.1 L781.8,275.2 L784.4,276.3 L787.1,277.3 L789.8,278.4 L792.4,279.5 L795.1,280.6 L797.8,281.6 L800.4,282.7 L803.1,283.8 L805.8,284.9 L808.4,285.9 L811.1,287.0 L813.8,288.1 L816.4,289.1 L819.1,290.2 L821.8,291.3 L824.4,292.3 L827.1,293.4 L829.8,294.4 L832.4,295.5 L835.1,296.5 L837.7,297.6 L840.4,298.6 L843.1,299.7 L845.7,300.7 L848.4,301.7 L851.1,302.8 L853.7,303.8 L856.4,304.8 L859.1,305.8 L861.7,306.8 L864.4,307.8 L867.1,308.9 L869.7,309.9 L872.4,310.9 L875.1,311.8 L877.7,312.8 L880.4,313.8 L883.1,314.8 L885.7,315.8 L888.4,316.7"/>
<path d="M91.3,294.5 L94.0,294.2 L96.6,293.8 L99.3,293.5 L102.0,293.2 L104.6,292.9 L107.3,292.6 L110.0,292.3 L112.6,292.1 L115.3,291.8 L118.0,291.5 L120.6,291.3 L123.3,291.1 L126.0,290.9 L128.6,290.7 L131.3,290.5 L134.0,290.3 L136.6,290.1 L139.3,289.9 L142.0,289.8 L144.6,289.6 L147.3,289.5 L149.9,289.4 L152.6,289.3 L155.3,289.1 L157.9,289.1 L160.6,289.0 L163.3,288.9 L165.9,288.8 L168.6,288.8 L171.3,288.7 L173.9,288.7 L176.6,288.7 L179.3,288.6 L181.9,288.6 L184.6,288.6 L187.3,288.7 L189.9,288.7 L192.6,288.7 L195.3,288.7 L197.9,288.8 L200.6,288.8 L203.3,288.9 L205.9,289.0 L208.6,289.1 L211.3,289.2 L213.9,289.3 L216.6,289.4 L219.3,289.5 L221.9,289.6 L224.6,289.8 L227.3,289.9 L229.9,290.1 L232.6,290.2 L235.3,290.4 L237.9,290.6 L240.6,290.8 L243.3,291.0 L245.9,291.2 L248.6,291.4 L251.3,291.6 L253.9,291.8 L256.6,292.1 L259.3,292.3 L261.9,292.6 L264.6,292.8 L267.2,293.1 L269.9,293.4 L272.6,293.6 L275.2,293.9 L277.9,294.2 L280.6,294.5 L283.2,294.8 L285.9,295.2 L288.6,295.5 L291.2,295.8 L293.9,296.2 L296.6,296.5 L299.2,296.9 L301.9,297.2 L304.6,297.6 L307.2,298.0 L309.9,298.4 L312.6,298.8 L315.2,299.1 L317.9,299.6 L320.6,300.0 L323.2,300.4 L325.9,300.8 L328.6,301.2 L331.2,301.7 L333.9,302.1 L336.6,302.6 L339.2,303.0 L341.9,303.5 L344.6,304.0 L347.2,304.4 L349.9,304.9 L352.6,305.4 L355.2,305.9 L357.9,306.4 L360.6,306.9 L363.2,307.4 L365.9,307.9 L368.6,308.5 L371.2,309.0 L373.9,309.5 L376.5,310.1 L379.2,310.6 L381.9,311.2 L384.5,311.8 L387.2,312.3 L389.9,312.9 L392.5,313.5 L395.2,314.1 L397.9,314.7 L400.5,315.3 L403.2,315.9 L405.9,316.5 L408.5,317.1 L411.2,317.8 L413.9,318.4 L416.5,319.0 L419.2,319.7 L421.9,320.3 L424.5,321.0 L427.2,321.7 L429.9,322.3 L432.5,323.0 L435.2,323.7 L437.9,324.4 L440.5,325.1 L443.2,325.8 L445.9,326.5 L448.5,327.2 L451.2,327.9 L453.9,328.6 L456.5,329.4 L459.2,330.1 L461.9,330.8 L464.5,331.6 L467.2,332.4 L469.9,333.1 L472.5,333.9 L475.2,334.7 L477.9,335.4 L480.5,336.2 L483.2,337.0 L485.9,337.8 L488.5,338.6 L491.2,339.4 L493.8,340.2 L496.5,341.0 L499.2,341.9 L501.8,342.7 L504.5,343.5 L507.2,344.4 L509.8,345.2 L512.5,346.0 L515.2,346.8 L517.8,347.7 L520.5,348.5 L523.2,349.3 L525.8,350.1 L528.5,350.9 L531.2,351.7 L533.8,352.5 L536.5,353.3 L539.2,354.1 L541.8,354.8 L544.5,355.6 L547.2,356.3 L549.8,357.1 L552.5,357.8 L555.2,358.5 L557.8,359.2 L560.5,359.9 L563.2,360.6 L565.8,361.3 L568.5,362.0 L571.2,362.8 L573.8,363.5 L576.5,364.2 L579.2,364.9 L581.8,365.6 L584.5,366.3 L587.2,367.0 L589.8,367.7 L592.5,368.5 L595.2,369.2 L597.8,370.0 L600.5,370.7 L603.2,371.5 L605.8,372.3 L608.5,373.1 L611.1,373.9 L613.8,374.7 L616.5,375.5 L619.1,376.3 L621.8,377.1 L624.5,378.0 L627.1,378.8 L629.8,379.7 L632.5,380.5 L635.1,381.4 L637.8,382.3 L640.5,383.1 L643.1,384.0 L645.8,384.9 L648.5,385.8 L651.1,386.7 L653.8,387.6 L656.5,388.5 L659.1,389.4 L661.8,390.3 L664.5,391.2 L667.1,392.1 L669.8,393.0 L672.5,393.9 L675.1,394.9 L677.8,395.8 L680.5,396.7 L683.1,397.6 L685.8,398.5 L688.5,399.4 L691.1,400.3 L693.8,401.2 L696.5,402.1 L699.1,403.0 L701.8,403.9 L704.5,404.8 L707.1,405.7 L709.8,406.6 L712.5,407.5 L715.1,408.4 L717.8,409.3 L720.4,410.2 L723.1,411.0 L725.8,411.9 L728.4,412.8 L731.1,413.6 L733.8,414.5 L736.4,415.4 L739.1,416.2 L741.8,417.1 L744.4,418.0 L747.1,418.8 L749.8,419.7 L752.4,420.5 L755.1,421.4 L757.8,422.3 L760.4,423.1 L763.1,424.0 L765.8,424.8 L768.4,425.7 L771.1,426.5 L773.8,427.4 L776.4,428.2 L779.1,429.1 L781.8,429.9 L784.4,430.8 L787.1,431.6 L789.8,432.5 L792.4,433.3 L795.1,434.2 L797.8,435.0 L800.4,435.9 L803.1,436.7 L805.8,437.6 L808.4,438.4 L811.1,439.3 L813.8,440.1 L816.4,441.0 L819.1,441.8 L821.8,442.7 L824.4,443.5 L827.1,444.4 L829.8,445.3 L832.4,446.1 L835.1,447.0 L837.7,447.9 L840.4,448.7 L843.1,449.6 L845.7,450.5 L848.4,451.4 L851.1,452.2 L853.7,453.1 L856.4,454.0 L859.1,454.9 L861.7,455.8 L864.4,456.7 L867.1,457.6 L869.7,458.5 L872.4,459.4 L875.1,460.3 L877.7,461.2 L880.4,462.1 L883.1,463.0 L885.7,463.9 L888.4,464.8"/>
<path d="M91.3,543.5 L94.0,543.0 L96.6,542.6 L99.3,542.1 L102.0,541.7 L104.6,541.2 L107.3,540.8 L110.0,540.3 L112.6,539.9 L115.3,539.5 L118.0,539.1 L120.6,538.7 L123.3,538.3 L126.0,537.9 L128.6,537.5 L131.3,537.1 L134.0,536.7 L136.6,536.3 L139.3,535.9 L142.0,535.5 L144.6,535.2 L147.3,534.8 L149.9,534.4 L152.6,534.1 L155.3,533.7 L157.9,533.4 L160.6,533.0 L163.3,532.7 L165.9,532.4 L168.6,532.0 L171.3,531.7 L173.9,531.4 L176.6,531.1 L179.3,530.7 L181.9,530.4 L184.6,530.1 L187.3,529.8 L189.9,529.5 L192.6,529.2 L195.3,528.9 L197.9,528.6 L200.6,528.3 L203.3,528.0 L205.9,527.8 L208.6,527.5 L211.3,527.2 L213.9,526.9 L216.6,526.7 L219.3,526.4 L221.9,526.1 L224.6,525.9 L227.3,525.6 L229.9,525.3 L232.6,525.1 L235.3,524.8 L237.9,524.6 L240.6,524.3 L243.3,524.1 L245.9,523.8 L248.6,523.6 L251.3,523.3 L253.9,523.1 L256.6,522.8 L259.3,522.6 L261.9,522.4 L264.6,522.1 L267.2,521.9 L269.9,521.7 L272.6,521.4 L275.2,521.2 L277.9,521.0 L280.6,520.8 L283.2,520.5 L285.9,520.3 L288.6,520.1 L291.2,519.9 L293.9,519.6 L296.6,519.4 L299.2,519.2 L301.9,519.0 L304.6,518.8 L307.2,518.5 L309.9,518.3 L312.6,518.1 L315.2,517.9 L317.9,517.7 L320.6,517.5 L323.2,517.3 L325.9,517.0 L328.6,516.8 L331.2,516.6 L333.9,516.4 L336.6,516.2 L339.2,516.0 L341.9,515.8 L344.6,515.6 L347.2,515.4 L349.9,515.2 L352.6,514.9 L355.2,514.7 L357.9,514.5 L360.6,514.3 L363.2,514.1 L365.9,513.9 L368.6,513.7 L371.2,513.5 L373.9,513.3 L376.5,513.1 L379.2,512.9 L381.9,512.7 L384.5,512.5 L387.2,512.3 L389.9,512.1 L392.5,511.9 L395.2,511.7 L397.9,511.5 L400.5,511.3 L403.2,511.1 L405.9,510.9 L408.5,510.7 L411.2,510.5 L413.9,510.3 L416.5,510.1 L419.2,510.0 L421.9,509.8 L424.5,509.6 L427.2,509.4 L429.9,509.2 L432.5,509.0 L435.2,508.8 L437.9,508.6 L440.5,508.4 L443.2,508.2 L445.9,508.0 L448.5,507.8 L451.2,507.6 L453.9,507.4 L456.5,507.3 L459.2,507.1 L461.9,506.9 L464.5,506.7 L467.2,506.5 L469.9,506.3 L472.5,506.1 L475.2,505.9 L477.9,505.7 L480.5,505.5 L483.2,505.4 L485.9,505.2 L488.5,505.0 L491.2,504.8 L493.8,504.6 L496.5,504.4 L499.2,504.2 L501.8,504.0 L504.5,503.8 L507.2,503.6 L509.8,503.5 L512.5,503.3 L515.2,503.1 L517.8,502.9 L520.5,502.7 L523.2,502.5 L525.8,502.3 L528.5,502.1 L531.2,501.9 L533.8,501.8 L536.5,501.6 L539.2,501.4 L541.8,501.2 L544.5,501.0 L547.2,500.8 L549.8,500.6 L552.5,500.4 L555.2,500.3 L557.8,500.1 L560.5,499.9 L563.2,499.7 L565.8,499.5 L568.5,499.3 L571.2,499.1 L573.8,499.0 L576.5,498.8 L579.2,498.6 L581.8,498.4 L584.5,498.2 L587.2,498.0 L589.8,497.8 L592.5,497.7 L595.2,497.5 L597.8,497.3 L600.5,497.1 L603.2,496.9 L605.8,496.8 L608.5,496.6 L611.1,496.4 L613.8,496.2 L616.5,496.0 L619.1,495.8 L621.8,495.7 L624.5,495.5 L627.1,495.3 L629.8,495.1 L632.5,494.9 L635.1,494.8 L637.8,494.6 L640.5,494.4 L643.1,494.2 L645.8,494.0 L648.5,493.9 L651.1,493.7 L653.8,493.5 L656.5,493.3 L659.1,493.2 L661.8,493.0 L664.5,492.8 L667.1,492.6 L669.8,492.5 L672.5,492.3 L675.1,492.1 L677.8,491.9 L680.5,491.8 L683.1,491.6 L685.8,491.4 L688.5,491.3 L691.1,491.1 L693.8,490.9 L696.5,490.7 L699.1,490.6 L701.8,490.4 L704.5,490.2 L707.1,490.1 L709.8,489.9 L712.5,489.7 L715.1,489.6 L717.8,489.4 L720.4,489.2 L723.1,489.1 L725.8,488.9 L728.4,488.8 L731.1,488.6 L733.8,488.4 L736.4,488.3 L739.1,488.1 L741.8,487.9 L744.4,487.8 L747.1,487.6 L749.8,487.5 L752.4,487.3 L755.1,487.1 L757.8,487.0 L760.4,486.8 L763.1,486.7 L765.8,486.5 L768.4,486.4 L771.1,486.2 L773.8,486.1 L776.4,485.9 L779.1,485.7 L781.8,485.6 L784.4,485.4 L787.1,485.3 L789.8,485.1 L792.4,485.0 L795.1,484.8 L797.8,484.7 L800.4,484.6 L803.1,484.4 L805.8,484.3 L808.4,484.1 L811.1,484.0 L813.8,483.8 L816.4,483.7 L819.1,483.5 L821.8,483.4 L824.4,483.3 L827.1,483.1 L829.8,483.0 L832.4,482.8 L835.1,482.7 L837.7,482.6 L840.4,482.4 L843.1,482.3 L845.7,482.2 L848.4,482.0 L851.1,481.9 L853.7,481.8 L856.4,481.6 L859.1,481.5 L861.7,481.4 L864.4,481.2 L867.1,481.1 L869.7,481.0 L872.4,480.9 L875.1,480.7 L877.7,480.6 L880.4,480.5 L883.1,480.4 L885.7,480.2 L888.4,480.1"/>
</g>
<rect x="91.3" y="32.3" width="797.10" height="558.45" fill="none" stroke="#000000" stroke-width="1.8"/>
<g fill="none" stroke="#000000" stroke-width="1.4" stroke-linecap="butt">
<path d="M190.94,590.75 v-8.7 M190.94,32.3 v8.7 M290.57,590.75 v-8.7 M290.57,32.3 v8.7 M390.21,590.75 v-8.7 M390.21,32.3 v8.7 M489.85,590.75 v-8.7 M489.85,32.3 v8.7 M589.49,590.75 v-8.7 M589.49,32.3 v8.7 M689.12,590.75 v-8.7 M689.12,32.3 v8.7 M788.76,590.75 v-8.7 M788.76,32.3 v8.7 M91.3,545.30 h4.5 M888.4,545.30 h-4.5 M91.3,518.72 h4.5 M888.4,518.72 h-4.5 M91.3,499.85 h4.5 M888.4,499.85 h-4.5 M91.3,485.22 h4.5 M888.4,485.22 h-4.5 M91.3,473.27 h4.5 M888.4,473.27 h-4.5 M91.3,463.16 h4.5 M888.4,463.16 h-4.5 M91.3,454.41 h4.5 M888.4,454.41 h-4.5 M91.3,446.68 h4.5 M888.4,446.68 h-4.5 M91.3,439.78 h8.7 M888.4,439.78 h-8.7 M91.3,394.33 h4.5 M888.4,394.33 h-4.5 M91.3,367.74 h4.5 M888.4,367.74 h-4.5 M91.3,348.88 h4.5 M888.4,348.88 h-4.5 M91.3,334.25 h4.5 M888.4,334.25 h-4.5 M91.3,322.29 h4.5 M888.4,322.29 h-4.5 M91.3,312.19 h4.5 M888.4,312.19 h-4.5 M91.3,303.43 h4.5 M888.4,303.43 h-4.5 M91.3,295.71 h4.5 M888.4,295.71 h-4.5 M91.3,288.80 h8.7 M888.4,288.80 h-8.7 M91.3,243.35 h4.5 M888.4,243.35 h-4.5 M91.3,216.77 h4.5 M888.4,216.77 h-4.5 M91.3,197.91 h4.5 M888.4,197.91 h-4.5 M91.3,183.27 h4.5 M888.4,183.27 h-4.5 M91.3,171.32 h4.5 M888.4,171.32 h-4.5 M91.3,161.21 h4.5 M888.4,161.21 h-4.5 M91.3,152.46 h4.5 M888.4,152.46 h-4.5 M91.3,144.73 h4.5 M888.4,144.73 h-4.5 M91.3,137.83 h8.7 M888.4,137.83 h-8.7 M91.3,92.38 h4.5 M888.4,92.38 h-4.5 M91.3,65.79 h4.5 M888.4,65.79 h-4.5 M91.3,46.93 h4.5 M888.4,46.93 h-4.5"/>
</g>
<g fill="none" stroke="#000000" stroke-width="1.5">
<circle cx="792.6" cy="67.8" r="4.15"/>
<rect x="815.2" y="63.6" width="8.4" height="8.4"/>
<path d="M846.4,62.2 L852.0,67.8 L846.4,73.4 L840.8,67.8Z"/>
</g>
<g fill="#000" stroke="none">
<circle cx="792.6" cy="67.8" r="0.9"/>
<circle cx="819.4" cy="67.8" r="0.9"/>
<circle cx="846.4" cy="67.8" r="0.9"/>
</g>
<line x1="782.9" y1="107.7" x2="856.2" y2="107.7" stroke="#ff0000" stroke-width="3"/>
<line x1="782.9" y1="148.3" x2="856.2" y2="148.3" stroke="#009a00" stroke-width="3" stroke-dasharray="19.2 7.85"/>
</svg></body></html>
